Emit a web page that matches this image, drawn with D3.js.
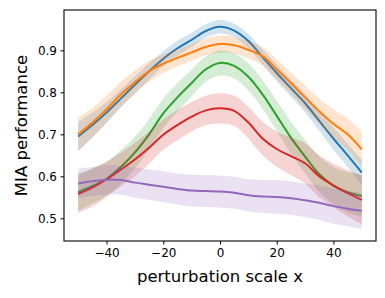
<!DOCTYPE html>
<meta charset="utf-8">
<head>
    <style>
        body { margin: 0; background: #fff; }
        text { font-family: "DejaVu Sans", sans-serif; fill: #000; }
        .tick line { stroke: #000; stroke-width: 1; }
        .domain { display: none; }
    </style>
    <script src="https://d3js.org/d3.v7.min.js"></script>
</head>
<body>
<script>

    // perturbation scale values (x)
    var xs = [-50, -45, -40, -35, -30, -25, -20, -15, -10, -5, 0, 5, 10, 15, 20, 25, 30, 35, 40, 45, 50];

    // mean MIA performance per curve
    var blueMean   = [0.695, 0.722, 0.752, 0.785, 0.818, 0.850, 0.880, 0.905, 0.925, 0.946, 0.956, 0.947, 0.922, 0.884, 0.846, 0.810, 0.774, 0.732, 0.690, 0.650, 0.609];
    var orangeMean = [0.700, 0.728, 0.760, 0.795, 0.824, 0.850, 0.868, 0.882, 0.895, 0.908, 0.915, 0.912, 0.901, 0.886, 0.855, 0.822, 0.788, 0.755, 0.725, 0.700, 0.664];
    var greenMean  = [0.562, 0.577, 0.594, 0.622, 0.657, 0.700, 0.750, 0.788, 0.822, 0.855, 0.870, 0.863, 0.837, 0.795, 0.744, 0.692, 0.647, 0.605, 0.578, 0.562, 0.553];
    var redMean    = [0.558, 0.573, 0.593, 0.616, 0.640, 0.668, 0.699, 0.722, 0.742, 0.757, 0.762, 0.756, 0.728, 0.690, 0.665, 0.648, 0.631, 0.600, 0.578, 0.560, 0.544];
    var purpleMean = [0.583, 0.588, 0.592, 0.591, 0.585, 0.580, 0.575, 0.570, 0.566, 0.565, 0.564, 0.561, 0.555, 0.552, 0.551, 0.548, 0.543, 0.537, 0.529, 0.523, 0.518];

    // half width of the shaded band
    var blueStd   = [0.035, 0.030, 0.025, 0.022, 0.020, 0.020, 0.018, 0.018, 0.017, 0.016, 0.016, 0.016, 0.017, 0.018, 0.020, 0.020, 0.022, 0.024, 0.026, 0.028, 0.030];
    var orangeStd = [0.040, 0.035, 0.032, 0.030, 0.028, 0.025, 0.022, 0.020, 0.020, 0.020, 0.020, 0.020, 0.020, 0.022, 0.024, 0.026, 0.028, 0.030, 0.034, 0.038, 0.042];
    var greenStd  = [0.045, 0.042, 0.040, 0.040, 0.038, 0.036, 0.035, 0.034, 0.032, 0.030, 0.030, 0.030, 0.032, 0.034, 0.036, 0.038, 0.040, 0.042, 0.045, 0.048, 0.050];
    var redStd    = [0.045, 0.045, 0.042, 0.040, 0.040, 0.038, 0.036, 0.036, 0.035, 0.035, 0.036, 0.036, 0.038, 0.040, 0.042, 0.045, 0.048, 0.050, 0.052, 0.055, 0.058];
    var purpleStd = [0.035, 0.035, 0.035, 0.035, 0.036, 0.036, 0.037, 0.037, 0.038, 0.038, 0.038, 0.038, 0.038, 0.039, 0.040, 0.040, 0.040, 0.041, 0.042, 0.042, 0.043];

    var xTicks = [-40, -20, 0, 20, 40];
    var yTicks = [0.5, 0.6, 0.7, 0.8, 0.9];

    var series = [
        {mean: blueMean,   std: blueStd,   color: "#1f77b4"},
        {mean: orangeMean, std: orangeStd, color: "#ff7f0e"},
        {mean: greenMean,  std: greenStd,  color: "#2ca02c"},
        {mean: redMean,    std: redStd,    color: "#d62728"},
        {mean: purpleMean, std: purpleStd, color: "#9467bd"}
    ];

    var width = 385, height = 298;
    var margin = {top: 10, right: 9, bottom: 57, left: 64};

    var svg = d3.select("body").append("svg")
        .attr("width", width)
        .attr("height", height);

    var x = d3.scaleLinear()
        .domain([-55, 55])
        .range([margin.left, width - margin.right]);

    var y = d3.scaleLinear()
        .domain([0.446, 0.996])
        .range([height - margin.bottom, margin.top]);

    var area = d3.area()
        .x(function (d) { return x(d.x); })
        .y0(function (d) { return y(d.m - d.s); })
        .y1(function (d) { return y(d.m + d.s); })
        .curve(d3.curveCatmullRom);

    var line = d3.line()
        .x(function (d) { return x(d.x); })
        .y(function (d) { return y(d.m); })
        .curve(d3.curveCatmullRom);

    var plot = svg.append("g");

    series.forEach(function (s) {
        var pts = xs.map(function (v, i) { return {x: v, m: s.mean[i], s: s.std[i]}; });
        plot.append("path")
            .attr("d", area(pts))
            .attr("fill", s.color)
            .attr("fill-opacity", 0.2);
        plot.append("path")
            .attr("d", line(pts))
            .attr("fill", "none")
            .attr("stroke", s.color)
            .attr("stroke-width", 2);
    });

    // frame
    svg.append("rect")
        .attr("x", margin.left)
        .attr("y", margin.top)
        .attr("width", width - margin.right - margin.left)
        .attr("height", height - margin.bottom - margin.top)
        .attr("fill", "none")
        .attr("stroke", "#000")
        .attr("stroke-width", 1.1);

    var xAxis = svg.append("g")
        .attr("transform", "translate(0," + (height - margin.bottom) + ")")
        .call(d3.axisBottom(x).tickValues(xTicks).tickSize(3.5).tickPadding(3.5)
            .tickFormat(function (d) { return d < 0 ? "\u2212" + Math.abs(d) : d; }));
    xAxis.selectAll("text").attr("font-size", 12).attr("font-family", "DejaVu Sans");

    var yAxis = svg.append("g")
        .attr("transform", "translate(" + margin.left + ",0)")
        .call(d3.axisLeft(y).tickValues(yTicks).tickSize(3.5).tickPadding(3.5)
            .tickFormat(d3.format(".1f")));
    yAxis.selectAll("text").attr("font-size", 12).attr("font-family", "DejaVu Sans");

    svg.append("text")
        .attr("x", (margin.left + width - margin.right) / 2)
        .attr("y", 282)
        .attr("text-anchor", "middle")
        .attr("font-size", 16.5)
        .text("perturbation scale x");

    svg.append("text")
        .attr("transform", "translate(27," + ((margin.top + height - margin.bottom) / 2) + ")rotate(-90)")
        .attr("text-anchor", "middle")
        .attr("font-size", 16.5)
        .text("MIA performance");

</script>
</body>
</html>
